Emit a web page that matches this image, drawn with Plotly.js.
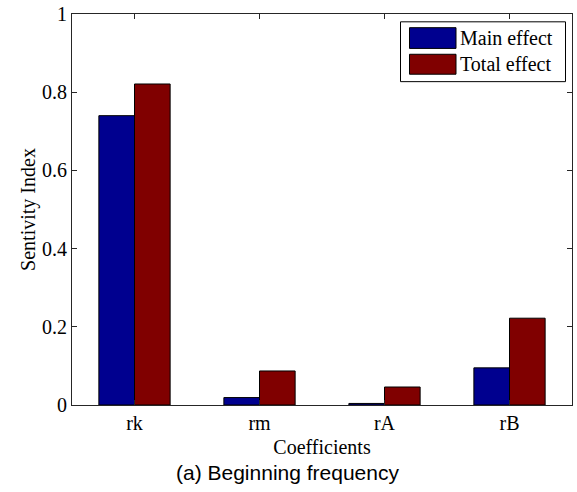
<!DOCTYPE html>
<html>
<head>
<meta charset="utf-8">
<script src="https://cdn.plot.ly/plotly-3.0.1.min.js"></script>
<style>html,body{margin:0;padding:0;background:#fff;}#chart{width:577px;height:492px;}</style>
</head>
<body>
<div id="chart"></div>
<script>
const categories = ["rk", "rm", "rA", "rB"];
const mainEffect = [0.740, 0.019, 0.004, 0.095];
const totalEffect = [0.821, 0.087, 0.046, 0.222];
const seriesNames = ["Main effect", "Total effect"];
const yTickVals = [0, 0.2, 0.4, 0.6, 0.8, 1];
const yTickText = ["0", "0.2", "0.4", "0.6", "0.8", "1"];
const caption = "(a) Beginning frequency";

const serif = "Liberation Serif, Times New Roman, serif";
const blue = "#00008F";
const red = "#800000";

const traces = [
  {type: "bar", x: categories, y: mainEffect, name: seriesNames[0],
   marker: {color: blue, line: {color: "#000", width: 1}}},
  {type: "bar", x: categories, y: totalEffect, name: seriesNames[1],
   marker: {color: red, line: {color: "#000", width: 1}}}
];

const axisColor = "#262626";
const layout = {
  width: 577, height: 492,
  margin: {l: 72, r: 5, t: 14, b: 87},
  paper_bgcolor: "#fff", plot_bgcolor: "#fff",
  showlegend: false,
  barmode: "group", bargap: 0.43, bargroupgap: 0,
  font: {family: serif, size: 19, color: "#000"},
  xaxis: {
    type: "category", range: [-0.5, 3.5],
    showline: true, linecolor: axisColor, linewidth: 1, mirror: "ticks",
    ticks: "inside", ticklen: 5, tickcolor: axisColor,
    showgrid: false, zeroline: false,
    tickfont: {family: serif, size: 20, color: "#000"},
    title: {text: "Coefficients", font: {family: serif, size: 20, color: "#000"}, standoff: 6}
  },
  yaxis: {
    range: [0, 1], tickvals: yTickVals, ticktext: yTickText,
    showline: true, linecolor: axisColor, linewidth: 1, mirror: "ticks",
    ticks: "inside", ticklen: 5, tickcolor: axisColor,
    showgrid: false, zeroline: false,
    tickfont: {family: serif, size: 20, color: "#000"},
    title: {text: "Sentivity Index", font: {family: serif, size: 20, color: "#000"}, standoff: 1}
  },
  shapes: [
    {type: "rect", xref: "paper", yref: "paper", x0: 0.657, x1: 0.987, y0: 0.827, y1: 0.980,
     line: {color: "#000", width: 1}, fillcolor: "#fff", layer: "above"},
    {type: "rect", xref: "paper", yref: "paper", x0: 0.675, x1: 0.768, y0: 0.912, y1: 0.965,
     line: {color: "#000", width: 1}, fillcolor: blue, layer: "above"},
    {type: "rect", xref: "paper", yref: "paper", x0: 0.675, x1: 0.768, y0: 0.846, y1: 0.897,
     line: {color: "#000", width: 1}, fillcolor: red, layer: "above"}
  ],
  annotations: [
    {xref: "paper", yref: "paper", x: 0.772, y: 0.938, xanchor: "left", yanchor: "middle",
     text: seriesNames[0], showarrow: false, font: {family: serif, size: 20, color: "#000"}},
    {xref: "paper", yref: "paper", x: 0.772, y: 0.872, xanchor: "left", yanchor: "middle",
     text: seriesNames[1], showarrow: false, font: {family: serif, size: 20, color: "#000"}},
    {xref: "paper", yref: "paper", x: 0.43, y: -0.172, xanchor: "center", yanchor: "middle",
     text: caption, showarrow: false, font: {family: "Liberation Sans, Arial, sans-serif", size: 21, color: "#000"}}
  ]
};

Plotly.newPlot("chart", traces, layout, {displayModeBar: false, staticPlot: true});
</script>
</body>
</html>
